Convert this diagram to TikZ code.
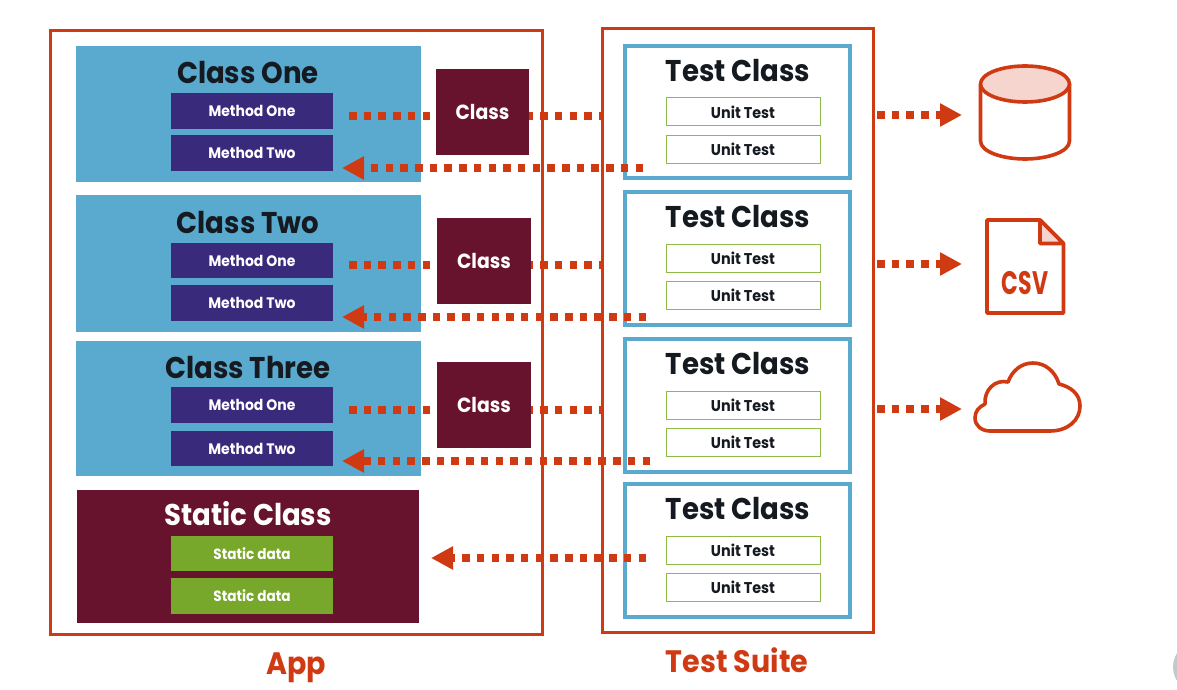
\documentclass[tikz,border=0pt]{standalone}
\usepackage{fontspec}
\setmainfont{Poppins}[BoldFont={Poppins Bold},BoldFeatures={FakeStretch=0.92}]
\usetikzlibrary{arrows.meta}
\definecolor{redc}{HTML}{CF3A13}
\definecolor{bluec}{HTML}{5AA9CE}
\definecolor{maroonc}{HTML}{68132D}
\definecolor{purplec}{HTML}{392A7C}
\definecolor{greenc}{HTML}{78A82B}
\definecolor{ugreen}{HTML}{8DBB45}
\definecolor{inkc}{HTML}{151A20}
\definecolor{pinkc}{HTML}{F6D5CE}
\tikzset{
  box/.style={inner sep=0pt,outer sep=0pt,rectangle},
  frameb/.style={draw=redc,line width=2.9pt,fill=none},
  classb/.style={fill=bluec},
  staticb/.style={fill=maroonc},
  methodb/.style={fill=purplec,text=white,font=\bfseries\fontsize{15.2}{16}\selectfont},
  datab/.style={fill=greenc,text=white,font=\bfseries\fontsize{14.8}{15}\selectfont},
  helperb/.style={fill=maroonc,text=white,font=\bfseries\fontsize{20.5}{21}\selectfont},
  testb/.style={draw=bluec,line width=3.3pt,fill=white},
  unitb/.style={draw=ugreen,line width=1pt,fill=white,text=inkc,font=\bfseries\fontsize{15.6}{16}\selectfont},
  heading/.style={inner sep=0pt,text=inkc,font=\bfseries\fontsize{30}{30}\selectfont},
  whead/.style={inner sep=0pt,text=white,font=\bfseries\fontsize{30}{30}\selectfont},
  caption/.style={inner sep=0pt,text=redc,font=\bfseries\fontsize{31}{31}\selectfont},
  dots/.style={draw=redc,line width=7.5pt,dash pattern=on 7.5pt off 7.2pt},
  dotarrow/.style={dots,-{Triangle[length=22pt,width=22pt,fill=redc]}},
  icon/.style={draw=redc,line width=3.6pt,line join=round}
}
\begin{document}
\begin{tikzpicture}[x=1pt,y=-1pt]
\useasboundingbox (0,0) rectangle (1177,690);
\begin{scope}
\clip (0,0) rectangle (1177,690);
\fill[black!22] (1199,667) circle (26);
\end{scope}

% coloured panels
\foreach \n/\y/\h in {classA/114/136,classB/263.5/137,classC/408.5/135}
  \node[box,classb,minimum width=345pt,minimum height=\h pt] (\n) at (248.5,\y) {};
\node[box,staticb,minimum width=342pt,minimum height=133pt] (static) at (248,556.5) {};

% frames
\node[box,frameb,minimum width=492pt,minimum height=604pt] (app) at (296.5,332.5) {};
\node[box,frameb,minimum width=271pt,minimum height=604pt] (suite) at (738,330.5) {};

% test classes
\foreach \n/\y/\h in {testA/112/132,testB/258.5/133,testC/405.5/133,testD/550.5/133}
  \node[box,testb,minimum width=225pt,minimum height=\h pt] (\n) at (737.5,\y) {};

% free ends of the connectors
\coordinate (a1) at (349,116);  \coordinate (b1) at (643,168);  \coordinate (t1) at (342,168);
\coordinate (a2) at (349,265);  \coordinate (b2) at (646,317);  \coordinate (t2) at (342,317);
\coordinate (a3) at (349,410);  \coordinate (b3) at (650,461);  \coordinate (t3) at (342,461);
\coordinate (b4) at (646,558);  \coordinate (t4) at (431,558);
\coordinate (s1) at (601,116);  \coordinate (s2) at (601,265);  \coordinate (s3) at (601,410);
\coordinate (o1) at (877,115);  \coordinate (e1) at (962,115);
\coordinate (o2) at (877,264);  \coordinate (e2) at (962,264);
\coordinate (o3) at (877,409);  \coordinate (e3) at (962,409);

% connectors
\foreach \p/\q in {a1/s1,a2/s2,a3/s3} \draw[dots] (\p) -- (\q);
\foreach \p/\q in {b1/t1,b2/t2,b3/t3,b4/t4,o1/e1,o2/e2,o3/e3} \draw[dotarrow] (\p) -- (\q);

% helper classes
\node[box,helperb,minimum width=93pt,minimum height=86pt] (helpA) at (482.5,112) {Class};
\node[box,helperb,minimum width=94pt,minimum height=86pt] (helpB) at (484,261) {Class};
\node[box,helperb,minimum width=94pt,minimum height=86pt] (helpC) at (484,405) {Class};

% headings
\node[heading] (h1) at (248,73) {Class One};
\node[heading] (h2) at (248,223) {Class Two};
\node[heading] (h3) at (248,368) {Class Three};
\node[whead] (h4) at (248,514) {Static Class};
\foreach \n/\y in {k1/71,k2/217,k3/364,k4/509}
  \node[heading] (\n) at (738,\y) {Test Class};

% methods
\foreach \n/\y/\h/\t in {m1/111/36/Method One,m2/153/36/Method Two,
                         m3/260.5/35/Method One,m4/303/36/Method Two,
                         m5/405/36/Method One,m6/448.5/35/Method Two}
  \node[box,methodb,minimum width=162pt,minimum height=\h pt] (\n) at (252,\y) {\t};
\foreach \n/\y in {d1/553.5,d2/596}
  \node[box,datab,minimum width=162pt,minimum height=35.5pt] (\n) at (252,\y) {Static data};

% unit tests
\foreach \n/\y in {u1/112,u2/149,u3/258.5,u4/295,u5/405,u6/442,u7/550,u8/587}
  \node[box,unitb,minimum width=154pt,minimum height=28pt] (\n) at (743,\y) {Unit Test};

% captions
\node[caption] (cApp) at (296,668) {App};
\node[caption] (cSuite) at (737,660) {Test Suite};

% database icon
\draw[icon] (980.5,84) -- (980.5,141) .. controls (980.5,152) and (1003,159) .. (1025,159)
  .. controls (1047,159) and (1069.5,152) .. (1069.5,141) -- (1069.5,84);
\draw[icon,fill=pinkc] (1025,84) ellipse (44.5 and 18);

% csv icon
\draw[icon] (987,220) -- (1040,220) -- (1063.5,243.5) -- (1063.5,313) -- (987,313) -- cycle;
\draw[icon,fill=pinkc] (1040,220) -- (1063.5,243.5) -- (1040,243.5) -- cycle;
\node[inner sep=0pt,text=redc,font=\bfseries\fontsize{26}{26}\selectfont,xscale=.92,yscale=1.25] (csv) at (1025,283) {CSV};

% cloud icon
\draw[icon] (990,431) -- (1050,431)
  .. controls (1068,431) and (1080,420) .. (1080,406)
  .. controls (1080,394) and (1071,387) .. (1059,384)
  .. controls (1055,371) and (1045,363) .. (1033,363)
  .. controls (1021,363) and (1012,371) .. (1008,382)
  .. controls (995,379) and (984,390) .. (985,404)
  .. controls (979,407) and (975,411) .. (975,418)
  .. controls (975,426) and (982,431) .. (990,431) -- cycle;
\end{tikzpicture}
\end{document}
